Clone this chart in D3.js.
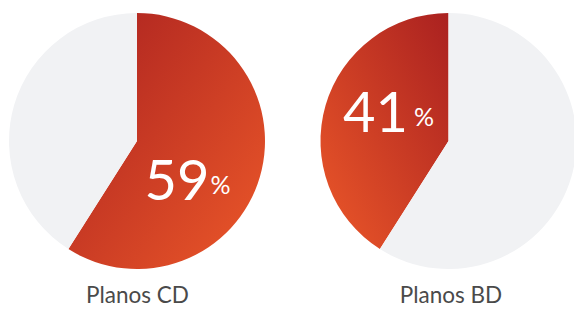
<!DOCTYPE html>
<html>
<head>
<meta charset="utf-8">
<script src="https://cdn.jsdelivr.net/npm/d3@7"></script>
<style>
  html, body { margin: 0; padding: 0; background: #fff; }
  svg { display: block; }
</style>
</head>
<body>
<div id="chart"></div>
<script>
// Planos CD vs Planos BD
const categories = ["Planos CD", "Planos BD"];
const shares = [59, 41];
const directions = ["clockwise", "counterclockwise"];

const width = 574, height = 309;
const radius = 128;
const centers = [{ x: 137, y: 141 }, { x: 448.5, y: 141 }];
// nudges for the big % labels, relative to the arc centroid
const labelNudge = [{ dx: -54, dy: 41 }, { dx: -44, dy: 9 }];

const svg = d3.select("#chart").append("svg")
    .attr("width", width)
    .attr("height", height);

const defs = svg.append("defs");

const arc = d3.arc().innerRadius(0).outerRadius(radius);

categories.forEach((cat, i) => {
    const share = shares[i];
    const cw = directions[i] === "clockwise";

    // gradient runs from the top edge of the pie to the far bottom corner
    const grad = defs.append("linearGradient")
        .attr("id", "grad-" + i)
        .attr("x1", cw ? "0%" : "100%").attr("y1", "0%")
        .attr("x2", cw ? "100%" : "0%").attr("y2", "100%");
    grad.append("stop").attr("offset", "0%").attr("stop-color", "#aa2120");
    grad.append("stop").attr("offset", "100%").attr("stop-color", "#ec5829");

    const pie = d3.pie()
        .sort(null)
        .value(d => d.v)
        .startAngle(0)
        .endAngle(cw ? 2 * Math.PI : -2 * Math.PI);

    const slices = pie([
        { key: "share", v: share },
        { key: "rest", v: 100 - share }
    ]);

    const g = svg.append("g")
        .attr("transform", `translate(${centers[i].x},${centers[i].y})`);

    g.selectAll("path")
        .data(slices)
        .enter().append("path")
        .attr("d", arc)
        .attr("fill", d => d.data.key === "share" ? `url(#grad-${i})` : "#f1f2f4");

    const c = arc.centroid(slices[0]);
    const lbl = g.append("text")
        .attr("x", c[0] + labelNudge[i].dx)
        .attr("y", c[1] + labelNudge[i].dy)
        .attr("fill", "#fff")
        .style("font-family", "Lato, 'Open Sans', sans-serif");
    lbl.append("tspan")
        .style("font-size", "56px")
        .style("font-weight", 400)
        .text(share);
    lbl.append("tspan")
        .attr("dx", i === 1 ? 6 : 1)
        .attr("dy", -6)
        .style("font-size", "25px")
        .style("font-weight", 400)
        .text("%");

    svg.append("text")
        .attr("x", centers[i].x + (i === 0 ? 0.5 : 2.5))
        .attr("y", 303)
        .attr("text-anchor", "middle")
        .attr("fill", "#4a4a4a")
        .style("font-family", "Lato, sans-serif")
        .style("font-size", "22.5px")
        .text(cat);
});
</script>
</body>
</html>
